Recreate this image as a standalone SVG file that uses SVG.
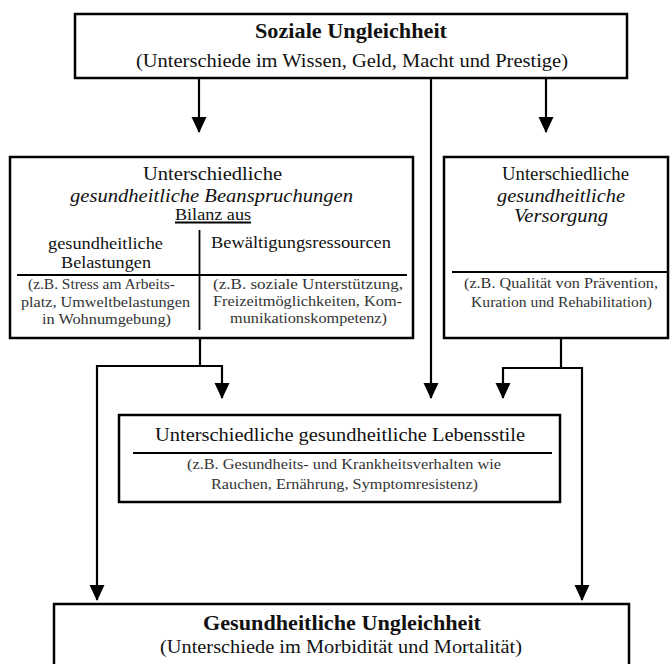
<svg xmlns="http://www.w3.org/2000/svg" width="670" height="664" viewBox="0 0 670 664">
<style>
.box{fill:#fff;stroke:#000;stroke-width:2.5}
.ln{fill:none;stroke:#000;stroke-width:2.2}
.div{fill:none;stroke:#000;stroke-width:1.8}
.t{font-family:"Liberation Serif","Times New Roman",serif;fill:#111}
.b{font-weight:bold}
.i{font-style:italic}
.s{fill:#333}
</style>
<defs>
<marker id="ah" markerUnits="userSpaceOnUse" markerWidth="16" markerHeight="16" viewBox="0 0 16 16" refX="15" refY="8" orient="auto">
<path d="M0,0.5 L16,8 L0,15.5 Z" fill="#000"/>
</marker>
</defs>
<rect width="670" height="664" fill="#fff"/>

<g id="connectors">
<path class="ln" d="M199,78 V132" marker-end="url(#ah)"/>
<path class="ln" d="M546,78 V132" marker-end="url(#ah)"/>
<path class="ln" d="M431,78 V398" marker-end="url(#ah)"/>
<path class="ln" d="M200,338 V366 H222 V398" marker-end="url(#ah)"/>
<path class="ln" d="M200,366 H97 V600" marker-end="url(#ah)"/>
<path class="ln" d="M561,338 V368 H503 V398" marker-end="url(#ah)"/>
<path class="ln" d="M561,368 H582 V600" marker-end="url(#ah)"/>
</g>

<g id="soziale-ungleichheit">
<rect class="box" x="75" y="14" width="552" height="64"/>
<text class="t b" x="255" y="38" font-size="20" textLength="192" lengthAdjust="spacingAndGlyphs">Soziale Ungleichheit</text>
<text class="t" x="136" y="67" font-size="18" textLength="432" lengthAdjust="spacingAndGlyphs">(Unterschiede im Wissen, Geld, Macht und Prestige)</text>
</g>

<g id="beanspruchungen">
<rect class="box" x="10" y="157" width="403" height="181"/>
<text class="t" x="143" y="180" font-size="18" textLength="139" lengthAdjust="spacingAndGlyphs">Unterschiedliche</text>
<text class="t i" x="70" y="202" font-size="18" textLength="283" lengthAdjust="spacingAndGlyphs">gesundheitliche Beanspruchungen</text>
<text class="t" x="175" y="220" font-size="17" textLength="76" lengthAdjust="spacingAndGlyphs">Bilanz aus</text>
<path class="div" d="M175,222.5 H251" stroke-width="1.2"/>
<path class="div" d="M199.5,230 V330"/>
<path class="div" d="M17,275 H407"/>
<text class="t" x="48" y="249" font-size="17" textLength="115" lengthAdjust="spacingAndGlyphs">gesundheitliche</text>
<text class="t" x="61" y="268" font-size="17" textLength="90" lengthAdjust="spacingAndGlyphs">Belastungen</text>
<text class="t" x="211" y="248" font-size="17" textLength="180" lengthAdjust="spacingAndGlyphs">Bewältigungsressourcen</text>
<text class="t s" x="28" y="289" font-size="14" textLength="147" lengthAdjust="spacingAndGlyphs">(z.B. Stress am Arbeits-</text>
<text class="t s" x="21" y="307" font-size="14" textLength="169" lengthAdjust="spacingAndGlyphs">platz, Umweltbelastungen</text>
<text class="t s" x="42" y="324" font-size="14" textLength="129" lengthAdjust="spacingAndGlyphs">in Wohnumgebung)</text>
<text class="t s" x="213" y="289" font-size="14" textLength="190" lengthAdjust="spacingAndGlyphs">(z.B. soziale  Unterstützung,</text>
<text class="t s" x="213" y="306" font-size="14" textLength="189" lengthAdjust="spacingAndGlyphs">Freizeitmöglichkeiten, Kom-</text>
<text class="t s" x="230" y="323" font-size="14" textLength="157" lengthAdjust="spacingAndGlyphs">munikationskompetenz)</text>
</g>

<g id="versorgung">
<rect class="box" x="444" y="157" width="224" height="181"/>
<text class="t" x="502" y="180" font-size="18" textLength="127" lengthAdjust="spacingAndGlyphs">Unterschiedliche</text>
<text class="t i" x="497" y="202" font-size="18" textLength="128" lengthAdjust="spacingAndGlyphs">gesundheitliche</text>
<text class="t i" x="514" y="222" font-size="18" textLength="94" lengthAdjust="spacingAndGlyphs">Versorgung</text>
<path class="div" d="M452,272 H668"/>
<text class="t s" x="464" y="288" font-size="14" textLength="194" lengthAdjust="spacingAndGlyphs">(z.B. Qualität von Prävention,</text>
<text class="t s" x="471" y="307" font-size="14" textLength="181" lengthAdjust="spacingAndGlyphs">Kuration und Rehabilitation)</text>
</g>

<g id="lebensstile">
<rect class="box" x="119" y="415" width="441" height="87"/>
<text class="t" x="155" y="441" font-size="18" textLength="370" lengthAdjust="spacingAndGlyphs">Unterschiedliche gesundheitliche Lebensstile</text>
<path class="div" d="M133,453 H552" stroke-width="1.5"/>
<text class="t s" x="187" y="469" font-size="14" textLength="314" lengthAdjust="spacingAndGlyphs">(z.B. Gesundheits- und Krankheitsverhalten wie</text>
<text class="t s" x="211" y="489" font-size="14" textLength="267" lengthAdjust="spacingAndGlyphs">Rauchen, Ernährung, Symptomresistenz)</text>
</g>

<g id="gesundheitliche-ungleichheit">
<rect class="box" x="54" y="604" width="575" height="80"/>
<text class="t b" x="203" y="630" font-size="20" textLength="278" lengthAdjust="spacingAndGlyphs">Gesundheitliche Ungleichheit</text>
<text class="t" x="160" y="653" font-size="18" textLength="362" lengthAdjust="spacingAndGlyphs">(Unterschiede im Morbidität und Mortalität)</text>
</g>
</svg>
